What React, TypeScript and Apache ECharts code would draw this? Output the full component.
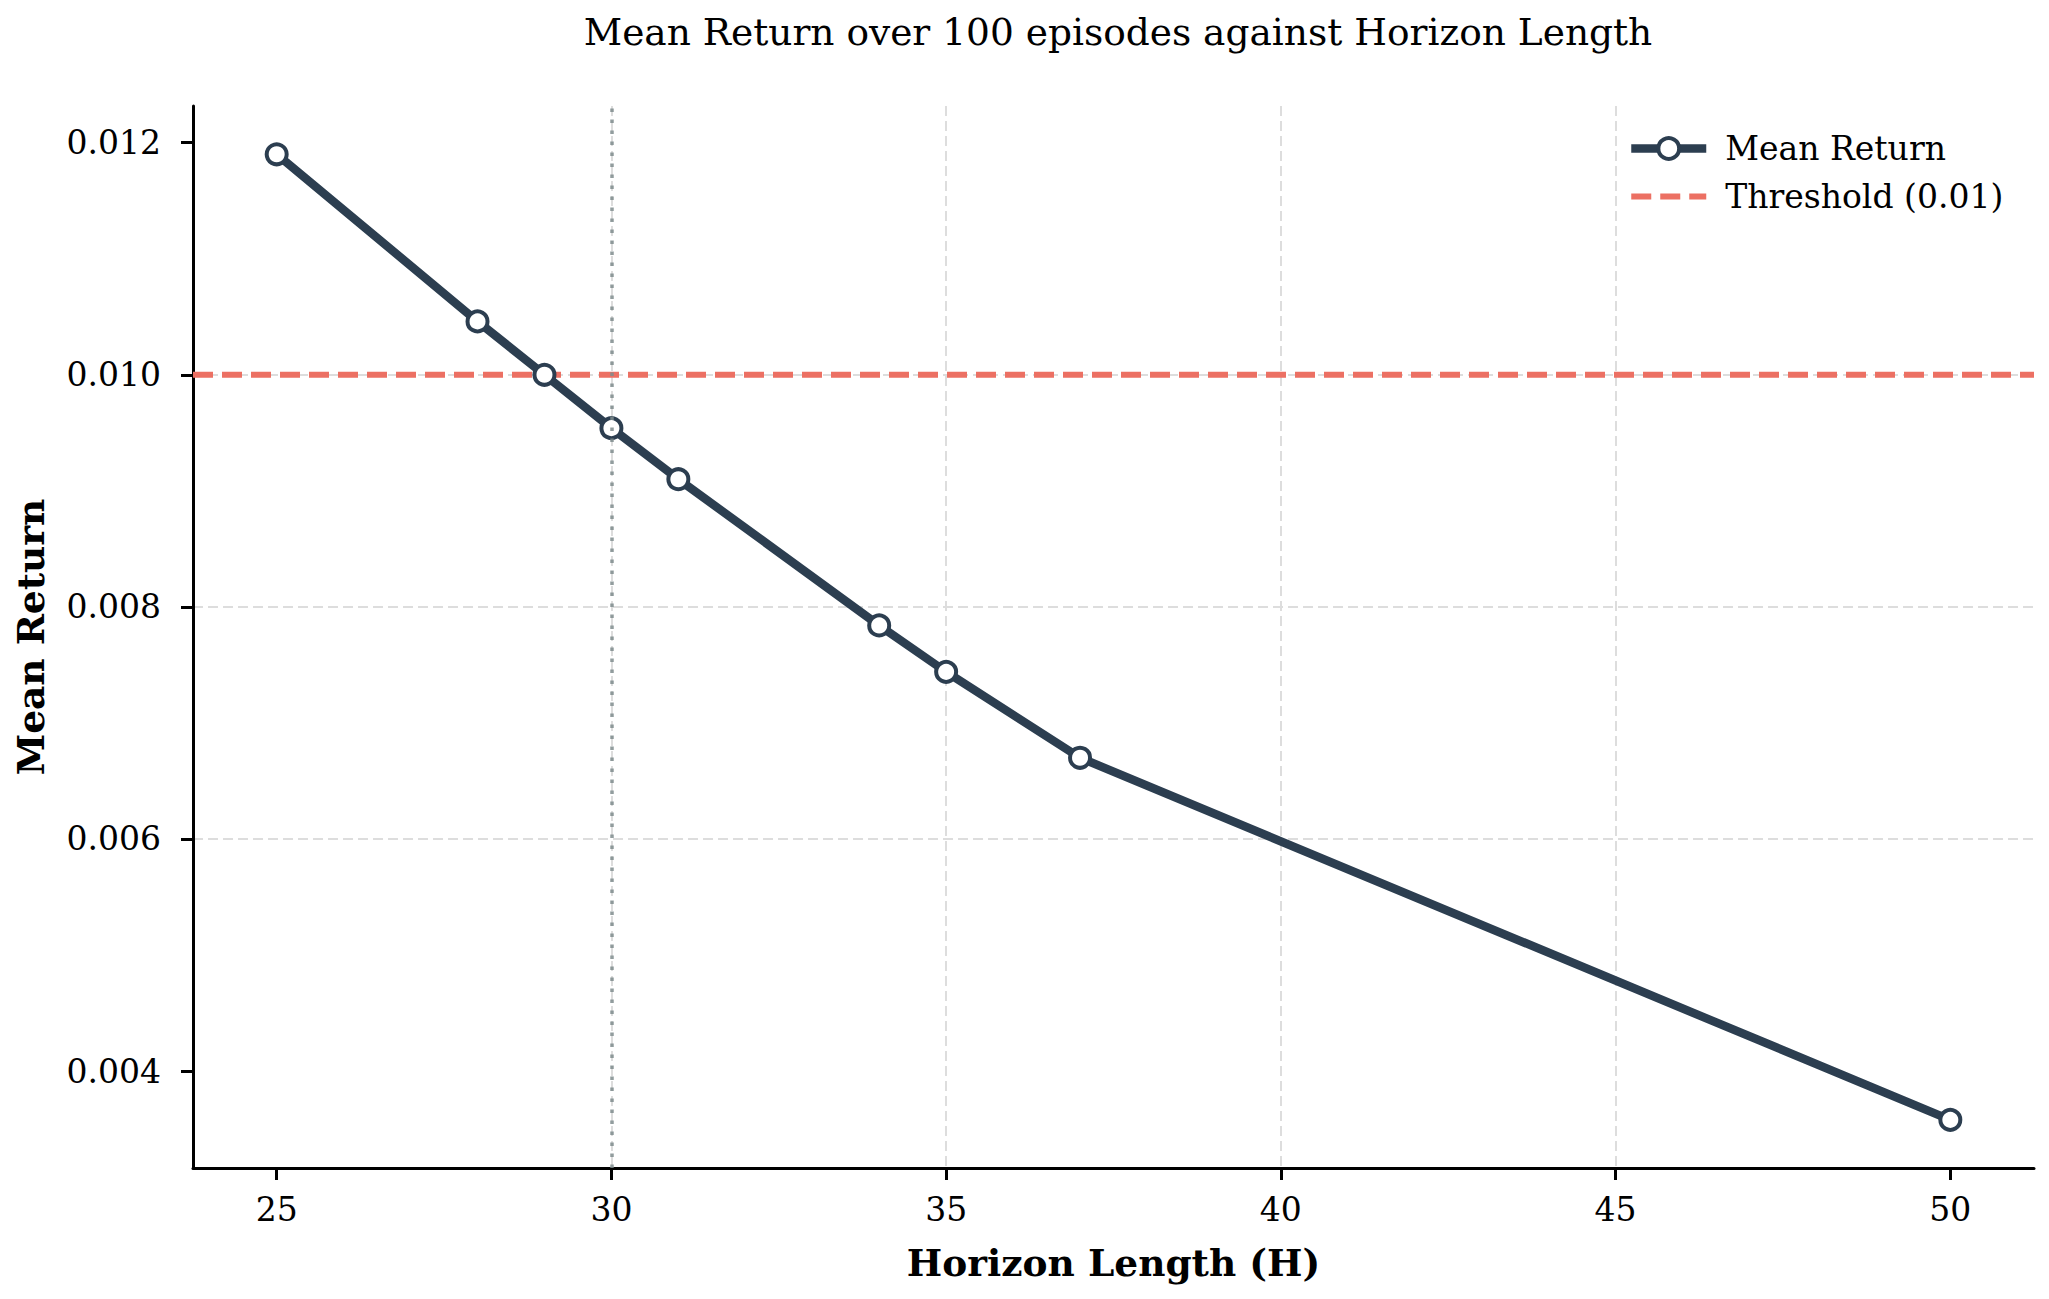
import { useEffect, useRef } from 'react'
import * as echarts from 'echarts'

// horizon lengths and their mean return over 100 episodes
const horizons = [25, 28, 29, 30, 31, 34, 35, 37, 50]
const meanReturns = [0.0119, 0.01046, 0.01, 0.00954, 0.0091, 0.00784, 0.00744, 0.0067, 0.00358]

const threshold = 0.01
const chosenHorizon = 30

const xTicks = [25, 30, 35, 40, 45, 50]
const yTicks = [0.004, 0.006, 0.008, 0.01, 0.012]

// axis limits (data range plus 5% margin)
const X_MIN = 23.75
const X_MAX = 51.25
const Y_MIN = 0.003165
const Y_MAX = 0.012316

const FONT = "'DejaVu Serif', serif"
const LINE_COLOR = '#2c3e50'
const THRESH_COLOR = '#ec7063'

export default function App() {
  const chartRef = useRef<HTMLDivElement>(null)

  useEffect(() => {
    if (!chartRef.current) return
    const chart = echarts.init(chartRef.current, null, { renderer: 'svg' })

    const gridLine = {
      show: true,
      showMinLine: false,
      showMaxLine: false,
      lineStyle: { color: '#dddddd', width: 2, type: [10, 5] as number[] },
    }

    const option: echarts.EChartsOption = {
      animation: false,
      backgroundColor: '#ffffff',
      textStyle: { fontFamily: FONT },
      title: {
        text: 'Mean Return over 100 episodes against Horizon Length',
        left: 1113,
        top: 8,
        textAlign: 'center',
        textStyle: { fontFamily: FONT, fontSize: 37.5, fontWeight: 'normal', color: '#000' },
      },
      legend: {
        orient: 'vertical',
        left: 1627,
        top: 132,
        padding: 0,
        itemWidth: 75,
        itemHeight: 26,
        itemGap: 15,
        textStyle: { fontFamily: FONT, fontSize: 33, color: '#000', lineHeight: 33, padding: [0, 0, 0, 14] },
        data: [
          {
            name: 'Mean Return',
            lineStyle: { width: 8.5, color: LINE_COLOR },
            itemStyle: { color: '#ffffff', borderColor: LINE_COLOR, borderWidth: 4 },
          },
          {
            name: 'Threshold (0.01)',
            lineStyle: { width: 6, color: THRESH_COLOR, type: [20, 9] },
            itemStyle: { opacity: 0 },
          },
        ],
      },
      grid: { left: 193, right: 15, top: 106, bottom: 131, containLabel: false },
      xAxis: {
        type: 'value',
        min: X_MIN,
        max: X_MAX,
        name: 'Horizon Length (H)',
        nameLocation: 'middle',
        nameGap: 76,
        nameTextStyle: { fontFamily: FONT, fontSize: 37.5, fontWeight: 'bold', color: '#000' },
        axisLine: { show: true, onZero: false, lineStyle: { color: '#000', width: 3 } },
        axisTick: { show: true, length: 12, lineStyle: { color: '#000', width: 3 }, customValues: xTicks },
        axisLabel: { fontFamily: FONT, fontSize: 33, color: '#000', margin: 25, customValues: xTicks },
        splitLine: gridLine,
      },
      yAxis: {
        type: 'value',
        min: Y_MIN,
        max: Y_MAX,
        name: 'Mean Return',
        nameLocation: 'middle',
        nameGap: 143,
        nameTextStyle: { fontFamily: FONT, fontSize: 37.5, fontWeight: 'bold', color: '#000' },
        axisLine: { show: true, onZero: false, lineStyle: { color: '#000', width: 3 } },
        axisTick: { show: true, length: 12, lineStyle: { color: '#000', width: 3 }, customValues: yTicks },
        axisLabel: {
          fontFamily: FONT,
          fontSize: 33,
          color: '#000',
          margin: 32,
          customValues: yTicks,
          formatter: (v: number) => v.toFixed(3),
        },
        splitLine: gridLine,
      },
      series: [
        {
          name: 'Threshold (0.01)',
          type: 'line',
          z: 2,
          symbol: 'none',
          data: [
            [X_MIN, threshold],
            [X_MAX, threshold],
          ],
          lineStyle: { color: THRESH_COLOR, width: 6, type: [20, 9] },
          itemStyle: { color: THRESH_COLOR },
          markLine: {
            silent: true,
            symbol: 'none',
            label: { show: false },
            lineStyle: { color: '#7f8c8d', width: 3.5, type: [3.5, 7.5], opacity: 0.85 },
            data: [{ xAxis: chosenHorizon }],
          },
        },
        {
          name: 'Mean Return',
          type: 'line',
          z: 3,
          data: horizons.map((h, i) => [h, meanReturns[i]]),
          symbol: 'circle',
          symbolSize: 20,
          showSymbol: true,
          lineStyle: { color: LINE_COLOR, width: 8.5 },
          itemStyle: { color: '#ffffff', borderColor: LINE_COLOR, borderWidth: 4 },
        },
      ],
    }

    chart.setOption(option)

    const handleResize = () => chart.resize()
    window.addEventListener('resize', handleResize)
    return () => {
      window.removeEventListener('resize', handleResize)
      chart.dispose()
    }
  }, [])

  return (
    <div
      ref={chartRef}
      style={{ position: 'fixed', left: 0, top: 0, width: '100vw', height: '100vh', background: '#fff' }}
    />
  )
}
